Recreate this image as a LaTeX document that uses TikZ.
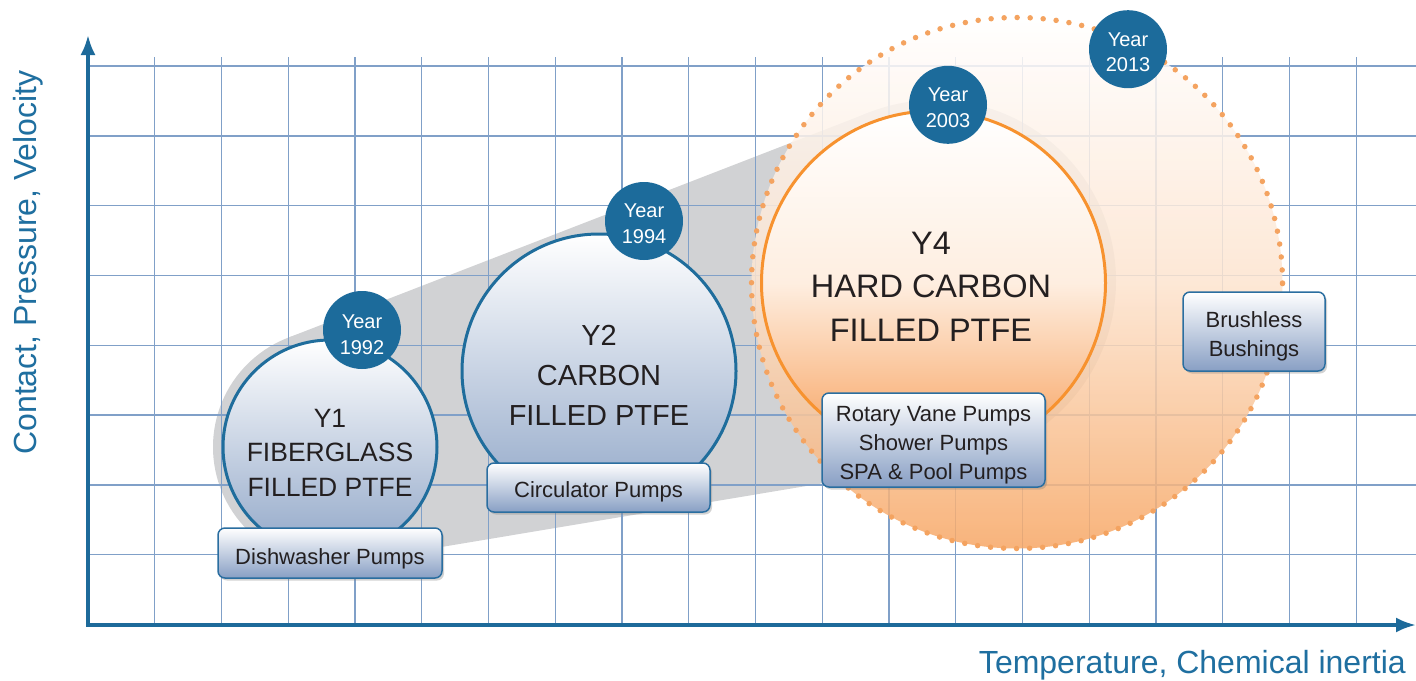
\documentclass[tikz,border=0pt]{standalone}
\usepackage{fontspec}
\setmainfont{Liberation Sans}
\usetikzlibrary{arrows.meta,shadows}
\definecolor{gridc}{RGB}{128,160,200}
\definecolor{axisc}{RGB}{29,106,154}
\definecolor{badgec}{RGB}{28,107,155}
\definecolor{circblue}{RGB}{31,109,156}
\definecolor{circbot}{RGB}{145,167,200}
\definecolor{boxbot}{RGB}{136,159,196}
\definecolor{boxdraw}{RGB}{42,110,160}
\definecolor{bandc}{RGB}{209,210,212}
\definecolor{orstroke}{RGB}{247,146,47}
\definecolor{ordots}{RGB}{244,163,96}
\definecolor{ormid}{RGB}{254,238,224}
\definecolor{orbot}{RGB}{247,160,92}
\definecolor{dfmid}{RGB}{253,228,207}
\definecolor{dfbot}{RGB}{247,167,101}
\definecolor{txt}{RGB}{35,31,32}
\definecolor{labc}{RGB}{31,111,160}
\begin{document}
\begin{tikzpicture}[x=1pt,y=-1pt,
  gridline/.style={draw=gridc, line width=1.4pt},
  axisline/.style={draw=axisc, line width=3.5pt, -{Latex[length=20pt,width=15pt]}},
  bubble/.style={circle, inner sep=0pt, draw=circblue, line width=3pt, top color=white, bottom color=circbot},
  orbubble/.style={circle, inner sep=0pt, draw=orstroke, line width=3pt, top color=white, bottom color=orbot, middle color=ormid},
  badge/.style={circle, inner sep=0pt, minimum size=78pt, fill=badgec},
  badgetext/.style={text=white, align=center, inner sep=0pt, font=\fontsize{20}{25.5}\selectfont},
  pbox/.style={rectangle, rounded corners=7pt, draw=boxdraw, line width=1.5pt, top color=white, bottom color=boxbot, inner sep=0pt, drop shadow={shadow xshift=2pt, shadow yshift=-2.5pt, opacity=0.35}},
  boxtext/.style={text=txt, align=center, inner sep=0pt, font=\fontsize{22}{29}\selectfont},
  bigtext/.style={text=txt, align=center, inner sep=0pt},
  axlabel/.style={text=labc, inner sep=0pt, font=\fontsize{32}{38}\selectfont}
]
\useasboundingbox (0,0) rectangle (1416,680);
\fill[white] (0,0) rectangle (1416,680);

% grey band
\fill[bandc] (330,447) circle[radius=117pt];
\fill[bandc] (935,281) circle[radius=181pt];
\fill[bandc] (287.7,337.9) -- (869.6,112.3) -- (964.8,459.5) -- (349.3,562.4) -- cycle;

% grid
\foreach \i in {1,...,19} \draw[gridline] ({88+66.75*\i},57) -- ({88+66.75*\i},625);
\foreach \j in {0,...,7} \draw[gridline] (88,{66+69.8*\j}) -- (1416,{66+69.8*\j});

% dotted future circle
\shade[top color=white, bottom color=dfbot, middle color=dfmid, fill opacity=0.85] (1017,283) circle[radius=265.5pt];
\draw[ordots, line width=5.5pt, line cap=round, dash pattern=on 0pt off 13.03pt] (1017,283) circle[radius=265.5pt];

% axes
\coordinate (origin) at (88,625);
\coordinate (ytip) at (88,35);
\coordinate (xtip) at (1416,625);
\draw[axisline] ([yshift=-1.75pt]origin) -- (ytip);
\draw[axisline] ([xshift=-1.75pt]origin) -- (xtip);

% bubbles
\node[bubble, minimum size=214pt] (c1) at (330,447) {};
\node[bubble, minimum size=274pt] (c2) at (599,371) {};
\node[orbubble, minimum size=344pt] (c4) at (933.5,283) {};

\node[bigtext, font=\fontsize{26.5}{34.5}\selectfont] (t1) at (330,452.5) {Y1\\FIBERGLASS\\FILLED PTFE};
\node[bigtext, font=\fontsize{29}{40}\selectfont] (t2) at (599,375) {Y2\\CARBON\\FILLED PTFE};
\node[bigtext, font=\fontsize{32.5}{43.5}\selectfont] (t4) at (931,286.5) {Y4\\HARD CARBON\\FILLED PTFE};

% application boxes
\node[pbox, minimum width=224pt, minimum height=50pt] (b1) at (330,553) {};
\node[boxtext] (b1t) at (330,559.3) {Dishwasher Pumps};
\node[pbox, minimum width=223pt, minimum height=49pt] (b2) at (598.5,487.5) {};
\node[boxtext] (b2t) at (598.5,492.3) {Circulator Pumps};
\node[pbox, minimum width=223pt, minimum height=94pt] (b3) at (933.5,440) {};
\node[boxtext] (b3t) at (933.5,445.3) {Rotary Vane Pumps\\Shower Pumps\\SPA \& Pool Pumps};
\node[pbox, minimum width=142pt, minimum height=79pt] (b4) at (1254,331.5) {};
\node[boxtext] (b4t) at (1254,336.8) {Brushless\\Bushings};

% year badges
\node[badge] (y1) at (362,330) {};
\node[badgetext] (y1t) at (362,334.6) {Year\\1992};
\node[badge] (y2) at (644,221) {};
\node[badgetext] (y2t) at (644,223.5) {Year\\1994};
\node[badge] (y3) at (948,104.8) {};
\node[badgetext] (y3t) at (948,107.5) {Year\\2003};
\node[badge] (y4) at (1128,49.2) {};
\node[badgetext] (y4t) at (1128,52) {Year\\2013};

% axis labels
\node[axlabel, rotate=90, anchor=base] (ylab) at (36,262.5) {Contact, Pressure, Velocity};
\node[axlabel, anchor=base east] (xlab) at (1406,673) {Temperature, Chemical inertia};
\end{tikzpicture}
\end{document}
